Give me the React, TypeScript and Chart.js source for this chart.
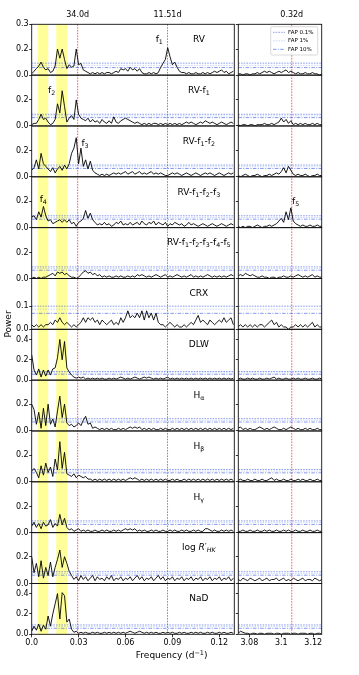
import React, { useEffect, useRef } from 'react';
import { Chart, registerables } from 'chart.js';

Chart.register(...registerables);

const FONT = '"DejaVu Sans", sans-serif';

// ---------- frequency grids (d^-1) ----------
const FREQ_L = [
  0, .0015, .003, .0045, .006, .0075, .009, .0105, .012, .0135,
  .015, .0165, .018, .0195, .021, .0225, .024, .0255, .027, .0285,
  .03, .0315, .033, .0345, .036, .0375, .039, .0405, .042, .0435,
  .045, .0465, .048, .0495, .051, .0525, .054, .0555, .057, .0585,
  .06, .0615, .063, .0645, .066, .0675, .069, .0705, .072, .0735,
  .075, .0765, .078, .0795, .081, .0825, .084, .0855, .087, .0885,
  .09, .0915, .093, .0945, .096, .0975, .099, .1005, .102, .1035,
  .105, .1065, .108, .1095, .111, .1125, .114, .1155, .117, .1185,
  .12, .1215, .123, .1245, .126, .1275, .129,
];
const FREQ_R = [
  3.073, 3.0745, 3.076, 3.0775, 3.079, 3.0805, 3.082, 3.0835, 3.085, 3.0865,
  3.088, 3.0895, 3.091, 3.0925, 3.094, 3.0955, 3.097, 3.0985, 3.1, 3.1015,
  3.103, 3.1045, 3.106, 3.1075, 3.109, 3.1105, 3.112, 3.1135, 3.115, 3.1165,
  3.118, 3.1195, 3.121, 3.1225, 3.124, 3.1255,
];

// ---------- power, low-frequency window ----------
const P_RV_L = [
  .01,.03,.05,.07,.10,.06,.04,.05,.02,.03, .07,.20,.13,.20,.12,.05,.08,.06,.07,.20,
  .08,.09,.04,.03,.02,.01,.02,.01,.02,.01, .02,.01,.02,.02,.01,.02,.03,.02,.05,.04,
  .05,.03,.06,.04,.05,.03,.05,.02,.01,.01, .02,.01,.02,.01,.02,.06,.09,.12,.21,.14,
  .08,.10,.06,.03,.02,.02,.01,.02,.01,.01, .02,.01,.01,.02,.01,.02,.01,.02,.03,.02,
  .03,.04,.02,.03,.01,.02,.03,
];
const P_RV1_L = [
  .01,.02,.02,.05,.09,.05,.06,.03,.01,.02, .05,.17,.10,.27,.15,.03,.06,.08,.05,.20,
  .09,.06,.05,.04,.06,.03,.05,.03,.04,.02, .05,.03,.02,.04,.02,.07,.03,.02,.04,.05,
  .06,.05,.04,.03,.02,.03,.02,.01,.02,.01, .02,.01,.02,.02,.01,.02,.01,.02,.01,.02,
  .01,.02,.01,.02,.01,.02,.03,.02,.03,.02, .01,.02,.03,.02,.04,.03,.02,.03,.02,.01,
  .02,.03,.02,.01,.02,.03,.02,
];
const P_RV12_L = [
  .05,.07,.13,.06,.18,.10,.08,.06,.04,.07, .03,.06,.08,.05,.09,.06,.10,.18,.22,.30,
  .10,.22,.08,.13,.06,.12,.05,.03,.02,.01, .02,.01,.02,.01,.02,.03,.02,.03,.02,.03,
  .04,.02,.03,.04,.02,.03,.04,.02,.03,.02, .03,.04,.02,.03,.02,.03,.02,.01,.01,.02,
  .03,.02,.03,.02,.01,.02,.03,.02,.01,.02, .03,.02,.01,.02,.03,.02,.03,.02,.01,.02,
  .03,.02,.01,.02,.03,.02,.03,
];
const P_RV123_L = [
  .08,.09,.06,.12,.08,.16,.09,.05,.06,.03, .04,.05,.06,.04,.06,.04,.06,.03,.04,.01,
  .04,.05,.07,.13,.07,.11,.06,.04,.02,.03, .02,.04,.02,.03,.01,.02,.04,.03,.05,.02,
  .03,.02,.04,.02,.03,.04,.02,.05,.03,.02, .04,.03,.05,.02,.04,.03,.02,.04,.01,.03,
  .02,.04,.03,.02,.03,.01,.02,.04,.02,.03, .02,.01,.02,.03,.02,.01,.02,.03,.02,.01,
  .02,.03,.02,.01,.02,.03,.02,
];
const P_RV12345_L = [
  .00,.01,.00,.01,.00,.01,.01,.02,.03,.04, .02,.05,.04,.05,.03,.04,.02,.01,.01,.00,
  .01,.03,.05,.06,.04,.05,.03,.04,.02,.03, .01,.02,.01,.02,.01,.01,.02,.01,.02,.01,
  .01,.02,.01,.02,.01,.03,.02,.03,.02,.01, .02,.01,.02,.03,.02,.01,.02,.03,.01,.02,
  .01,.02,.03,.02,.01,.02,.01,.02,.03,.01, .02,.01,.02,.01,.02,.03,.02,.01,.02,.01,
  .02,.01,.02,.01,.02,.03,.02,
];
const P_CRX_L = [
  .02,.01,.02,.01,.02,.01,.02,.02,.03,.02, .04,.03,.05,.03,.02,.03,.02,.01,.02,.01,
  .02,.03,.05,.03,.05,.04,.05,.03,.04,.02, .04,.03,.02,.03,.04,.02,.03,.02,.05,.03,
  .05,.08,.05,.06,.05,.07,.05,.08,.04,.08, .05,.07,.04,.07,.03,.02,.02,.01,.02,.03,
  .02,.01,.02,.01,.01,.02,.01,.02,.03,.02, .04,.06,.03,.04,.03,.02,.04,.03,.02,.03,
  .04,.03,.05,.03,.04,.05,.02,
];
const P_DLW_L = [
  .25,.10,.05,.11,.03,.10,.04,.10,.05,.11, .12,.22,.40,.20,.38,.12,.08,.05,.03,.02,
  .03,.02,.03,.01,.02,.01,.02,.01,.02,.01, .02,.01,.01,.02,.01,.02,.01,.02,.03,.02,
  .01,.02,.01,.02,.03,.02,.01,.02,.03,.02, .03,.02,.01,.02,.01,.02,.01,.02,.03,.01,
  .02,.01,.02,.01,.02,.01,.02,.01,.02,.01, .02,.01,.02,.01,.02,.01,.02,.01,.02,.01,
  .02,.01,.02,.01,.02,.01,.02,
];
const P_HA_L = [
  .20,.16,.05,.14,.02,.17,.04,.20,.05,.09, .03,.15,.26,.10,.20,.06,.04,.05,.03,.04,
  .06,.04,.08,.11,.05,.06,.02,.03,.02,.01, .02,.01,.02,.01,.02,.01,.01,.02,.01,.02,
  .01,.02,.03,.02,.03,.02,.03,.01,.02,.01, .02,.01,.02,.01,.01,.02,.01,.02,.01,.01,
  .02,.01,.02,.01,.02,.01,.02,.01,.02,.01, .02,.01,.02,.01,.02,.01,.02,.01,.02,.01,
  .02,.01,.02,.01,.02,.01,.02,
];
const P_HB_L = [
  .08,.10,.07,.03,.12,.05,.14,.07,.11,.04, .17,.09,.30,.10,.22,.06,.05,.04,.06,.03,
  .05,.04,.03,.04,.02,.02,.01,.02,.01,.02, .01,.02,.01,.02,.01,.02,.01,.02,.01,.02,
  .01,.02,.03,.02,.03,.02,.01,.02,.01,.02, .01,.02,.01,.02,.01,.02,.01,.02,.01,.01,
  .02,.01,.02,.01,.01,.02,.01,.02,.01,.02, .01,.02,.01,.02,.01,.02,.01,.02,.01,.02,
  .01,.02,.01,.02,.01,.02,.01,
];
const P_HG_L = [
  .05,.08,.04,.07,.03,.08,.05,.06,.10,.04, .07,.05,.14,.06,.11,.04,.02,.03,.01,.02,
  .03,.01,.02,.01,.02,.01,.01,.02,.01,.01, .02,.01,.02,.01,.01,.02,.01,.02,.01,.02,
  .03,.02,.03,.02,.03,.01,.02,.01,.02,.01, .01,.02,.01,.02,.01,.01,.02,.01,.01,.02,
  .01,.02,.01,.01,.02,.01,.02,.01,.01,.02, .01,.02,.01,.01,.03,.03,.02,.01,.02,.01,
  .01,.02,.01,.02,.01,.02,.01,
];
const P_RHK_L = [
  .20,.08,.15,.05,.17,.04,.12,.06,.16,.05, .12,.18,.25,.12,.20,.15,.09,.06,.03,.05,
  .02,.06,.03,.05,.02,.04,.06,.02,.05,.03, .04,.02,.05,.03,.06,.02,.04,.03,.05,.02,
  .04,.03,.05,.02,.04,.06,.03,.05,.02,.04, .03,.05,.02,.04,.06,.03,.05,.02,.04,.03,
  .05,.02,.04,.03,.05,.02,.04,.03,.05,.02, .04,.03,.05,.02,.04,.03,.05,.02,.04,.03,
  .05,.02,.04,.03,.05,.02,.04,
];
const P_NAD_L = [
  .03,.08,.04,.10,.03,.09,.05,.18,.08,.20, .30,.40,.15,.41,.38,.12,.15,.05,.02,.03,
  .01,.02,.01,.02,.01,.01,.02,.01,.02,.01, .01,.02,.01,.02,.01,.02,.01,.02,.01,.02,
  .01,.02,.03,.02,.01,.02,.03,.02,.01,.02, .01,.02,.01,.02,.01,.01,.02,.01,.02,.01,
  .02,.01,.01,.02,.01,.02,.01,.01,.02,.01, .02,.01,.02,.01,.01,.02,.01,.02,.01,.01,
  .02,.01,.02,.01,.01,.02,.01,
];

// ---------- power, high-frequency window ----------
const P_RV_R = [.01,.01,.00,.01,.01,.00,.01,.01,.02,.01, .02,.03,.02,.03,.02,.01,.02,.03,.02,.03, .04,.02,.03,.02,.01,.02,.01,.01,.02,.01, .01,.02,.01,.01,.00,.01];
const P_RV1_R = [.01,.00,.01,.01,.00,.01,.01,.00,.01,.01, .01,.02,.01,.01,.02,.01,.02,.03,.06,.03, .05,.02,.04,.01,.02,.01,.02,.01,.02,.01, .01,.02,.01,.02,.01,.01];
const P_RV12_R = [.01,.00,.01,.02,.01,.00,.01,.01,.02,.01, .00,.01,.01,.02,.01,.02,.03,.02,.04,.07, .03,.08,.05,.02,.01,.02,.01,.01,.02,.01, .00,.01,.01,.02,.01,.01];
const P_RV123_R = [.01,.00,.01,.00,.01,.01,.00,.01,.02,.01, .00,.01,.01,.02,.01,.02,.03,.05,.07,.04, .12,.06,.15,.05,.03,.02,.01,.02,.01,.01, .02,.01,.01,.02,.01,.01];
const P_RV12345_R = [.02,.03,.02,.04,.03,.02,.03,.02,.01,.01, .02,.01,.01,.00,.01,.01,.00,.01,.01,.02, .01,.01,.02,.01,.02,.03,.02,.01,.02,.01, .02,.03,.01,.02,.01,.01];
const P_CRX_R = [.01,.02,.01,.02,.01,.02,.01,.02,.01,.02, .02,.01,.02,.03,.04,.02,.03,.01,.02,.01, .01,.00,.01,.01,.02,.01,.02,.01,.02,.01, .02,.03,.01,.02,.01,.01];
const P_DLW_R = [.01,.02,.01,.01,.02,.01,.02,.01,.01,.02, .01,.01,.02,.01,.02,.03,.01,.02,.01,.01, .02,.01,.01,.02,.01,.02,.01,.01,.02,.01, .01,.02,.01,.01,.02,.01];
const P_HA_R = [.02,.03,.01,.02,.01,.02,.01,.01,.02,.03, .02,.01,.02,.01,.02,.03,.02,.01,.01,.02, .01,.02,.03,.02,.01,.02,.01,.01,.02,.01, .02,.01,.01,.02,.01,.01];
const P_HB_R = [.01,.02,.01,.01,.02,.01,.01,.02,.01,.01, .02,.01,.01,.02,.03,.01,.02,.01,.01,.02, .01,.01,.02,.01,.01,.02,.01,.02,.01,.01, .02,.01,.01,.02,.01,.01];
const P_HG_R = [.01,.01,.02,.01,.01,.02,.01,.01,.02,.01, .01,.02,.01,.02,.01,.01,.02,.01,.01,.02, .01,.02,.01,.01,.02,.01,.01,.02,.01,.01, .02,.01,.01,.02,.01,.01];
const P_RHK_R = [.03,.02,.04,.03,.02,.04,.03,.02,.03,.04, .02,.03,.04,.02,.03,.03,.04,.02,.03,.04, .02,.03,.02,.04,.03,.02,.03,.04,.02,.03, .03,.02,.04,.03,.02,.03];
const P_NAD_R = [.01,.03,.02,.01,.01,.00,.01,.01,.00,.01, .01,.00,.01,.01,.01,.00,.01,.01,.00,.01, .01,.01,.00,.01,.01,.00,.01,.01,.01,.00, .01,.01,.00,.01,.01,.00];

const POWER_L = [P_RV_L, P_RV1_L, P_RV12_L, P_RV123_L, P_RV12345_L, P_CRX_L, P_DLW_L, P_HA_L, P_HB_L, P_HG_L, P_RHK_L, P_NAD_L];
const POWER_R = [P_RV_R, P_RV1_R, P_RV12_R, P_RV123_R, P_RV12345_R, P_CRX_R, P_DLW_R, P_HA_R, P_HB_R, P_HG_R, P_RHK_R, P_NAD_R];

// ---------- false-alarm levels per row ----------
const FAP_01 = [.092, .09, .09, .09, .09, .10, .085, .092, .092, .09, .088, .092];
const FAP_1 = [.075, .077, .077, .077, .077, .087, .072, .08, .08, .077, .075, .076];
const FAP_10 = [.058, .064, .064, .064, .064, .069, .058, .067, .067, .063, .062, .059];
const FAP_LEVELS = [FAP_01, FAP_1, FAP_10];
const FAP_NAMES = ['FAP 0.1%', 'FAP 1%', 'FAP 10%'];

// ---------- axes ----------
const Y_MAX = [0.39, 0.39, 0.39, 0.385, 0.395, 0.22, 0.5, 0.38, 0.38, 0.39, 0.38, 0.5];
const Y_TICKS = [[0, 0.2, 0.39], [0, 0.2], [0, 0.2], [0, 0.2], [0, 0.2], [0, 0.1], [0, 0.2, 0.4], [0, 0.2], [0, 0.2], [0, 0.2], [0, 0.2], [0, 0.2, 0.4]];
const Y_TICK_LABELS = [['0.0', '0.2', '0.3'], ['0.0', '0.2'], ['0.0', '0.2'], ['0.0', '0.2'], ['0.0', '0.2'], ['0.0', '0.1'], ['0.0', '0.2', '0.4'], ['0.0', '0.2'], ['0.0', '0.2'], ['0.0', '0.2'], ['0.0', '0.2'], ['0.0', '0.2', '0.4']];
const X_MIN_L = 0, X_MAX_L = 0.1296;
const X_MIN_R = 3.0731, X_MAX_R = 3.1253;
const X_TICKS_L = [0, 0.03, 0.06, 0.09, 0.12];
const X_TICK_LABELS_L = ['0.0', '0.03', '0.06', '0.09', '0.12'];
const X_TICKS_R = [3.08, 3.1, 3.12];
const X_TICK_LABELS_R = ['3.08', '3.1', '3.12'];
const PERIODS_L = [34.0, 11.51];
const PERIOD_LABELS_L = ['34.0d', '11.51d'];
const PERIODS_R = [0.3219];
const PERIOD_LABELS_R = ['0.32d'];
const BANDS = [[0.0038, 0.0106], [0.0157, 0.0226]];

type Seg = { t: string; sub?: boolean; it?: boolean };
const ROW_LABELS: Seg[][] = [
  [{ t: 'RV' }],
  [{ t: 'RV-f' }, { t: '1', sub: true }],
  [{ t: 'RV-f' }, { t: '1', sub: true }, { t: '-f' }, { t: '2', sub: true }],
  [{ t: 'RV-f' }, { t: '1', sub: true }, { t: '-f' }, { t: '2', sub: true }, { t: '-f' }, { t: '3', sub: true }],
  [{ t: 'RV-f' }, { t: '1', sub: true }, { t: '-f' }, { t: '2', sub: true }, { t: '-f' }, { t: '3', sub: true }, { t: '-f' }, { t: '4', sub: true }, { t: '-f' }, { t: '5', sub: true }],
  [{ t: 'CRX' }],
  [{ t: 'DLW' }],
  [{ t: 'H' }, { t: 'α', sub: true }],
  [{ t: 'H' }, { t: 'β', sub: true }],
  [{ t: 'H' }, { t: 'γ', sub: true }],
  [{ t: 'log ' }, { t: 'R', it: true }, { t: '′' }, { t: 'HK', sub: true, it: true }],
  [{ t: 'NaD' }],
];
const PEAK_LABELS = [
  { side: 'L', row: 0, x: 0.0816, y: 0.28, n: '1' },
  { side: 'L', row: 1, x: 0.0128, y: 0.28, n: '2' },
  { side: 'L', row: 2, x: 0.0341, y: 0.26, n: '3' },
  { side: 'L', row: 3, x: 0.0074, y: 0.22, n: '4' },
  { side: 'R', row: 3, x: 3.109, y: 0.20, n: '5' },
];

const FAP_STYLES = [
  { color: 'rgba(60,95,225,0.75)', dash: [1.6, 1.1], width: 0.8 },
  { color: 'rgba(110,140,235,0.45)', dash: [1.6, 1.1], width: 0.8 },
  { color: 'rgba(60,95,225,0.8)', dash: [3.5, 1.4, 1, 1.4], width: 0.8 },
];

function drawRich(ctx: CanvasRenderingContext2D, segs: Seg[], cx: number, cy: number, size: number) {
  const font = (s: Seg) => `${s.it ? 'italic ' : ''}${s.sub ? size * 0.7 : size}px ${FONT}`;
  let w = 0;
  for (const s of segs) { ctx.font = font(s); w += ctx.measureText(s.t).width; }
  let x = cx - w / 2;
  const base = cy + size * 0.36;
  ctx.textAlign = 'left';
  ctx.textBaseline = 'alphabetic';
  ctx.fillStyle = '#000';
  for (const s of segs) {
    ctx.font = font(s);
    ctx.fillText(s.t, x, s.sub ? base + size * 0.22 : base);
    x += ctx.measureText(s.t).width;
  }
}

function makePlugin(side: 'L' | 'R') {
  const isL = side === 'L';
  return {
    id: 'deco' + side,
    beforeDatasetsDraw(chart: any) {
      const { ctx, chartArea: ca, scales } = chart;
      const xs = scales.x;
      ctx.save();
      if (isL) {
        ctx.fillStyle = 'rgba(255,255,0,0.4)';
        for (const [a, b] of BANDS) {
          const xa = xs.getPixelForValue(a), xb = xs.getPixelForValue(b);
          ctx.fillRect(xa, ca.top, xb - xa, ca.bottom - ca.top);
        }
      }
      ctx.strokeStyle = 'rgba(235,20,20,0.85)';
      ctx.lineWidth = 0.8;
      ctx.setLineDash([1.6, 1.2]);
      for (const p of isL ? PERIODS_L : PERIODS_R) {
        const px = xs.getPixelForValue(1 / p);
        ctx.beginPath();
        ctx.moveTo(px, ca.top);
        ctx.lineTo(px, ca.bottom);
        ctx.stroke();
      }
      ctx.restore();
    },
    afterDatasetsDraw(chart: any) {
      const { ctx, chartArea: ca, scales } = chart;
      ctx.save();
      ctx.strokeStyle = '#111';
      ctx.lineWidth = 0.9;
      ctx.setLineDash([]);
      for (let i = 0; i < 12; i++) {
        const ys = scales['y' + i];
        ctx.strokeRect(ca.left, ys.top, ca.right - ca.left, ys.bottom - ys.top);
      }
      if (isL) {
        for (let i = 0; i < 12; i++) {
          const ys = scales['y' + i];
          const cx = ca.left + 0.825 * (ca.right - ca.left);
          const cy = ys.top + 0.285 * (ys.bottom - ys.top);
          drawRich(ctx, ROW_LABELS[i], cx, cy, 9);
        }
      }
      for (const pl of PEAK_LABELS) {
        if (pl.side !== side) continue;
        const ys = scales['y' + pl.row];
        drawRich(ctx, [{ t: 'f' }, { t: pl.n, sub: true }], scales.x.getPixelForValue(pl.x), ys.getPixelForValue(pl.y), 9);
      }
      if (!isL) {
        const ys = scales.y0;
        const lw = 47, lh = 28.3;
        const lx = ca.right - 4 - lw, ly = ys.top + 2.4;
        ctx.fillStyle = 'rgba(255,255,255,0.85)';
        ctx.strokeStyle = 'rgba(200,200,200,0.9)';
        ctx.lineWidth = 0.8;
        ctx.beginPath();
        if ((ctx as any).roundRect) (ctx as any).roundRect(lx, ly, lw, lh, 1.5); else ctx.rect(lx, ly, lw, lh);
        ctx.fill();
        ctx.stroke();
        FAP_STYLES.forEach((st, k) => {
          const yy = ly + 5.6 + k * 8.5;
          ctx.strokeStyle = st.color;
          ctx.lineWidth = st.width;
          ctx.setLineDash(st.dash);
          ctx.beginPath();
          ctx.moveTo(lx + 2.3, yy);
          ctx.lineTo(lx + 14.3, yy);
          ctx.stroke();
          ctx.setLineDash([]);
          ctx.fillStyle = '#000';
          ctx.font = `5.5px ${FONT}`;
          ctx.textAlign = 'left';
          ctx.textBaseline = 'middle';
          ctx.fillText(FAP_NAMES[k], lx + 17.3, yy);
        });
      }
      ctx.restore();
    },
  };
}

function makeConfig(side: 'L' | 'R'): any {
  const isL = side === 'L';
  const freqs = isL ? FREQ_L : FREQ_R;
  const series = isL ? POWER_L : POWER_R;
  const xMin = isL ? X_MIN_L : X_MIN_R;
  const xMax = isL ? X_MAX_L : X_MAX_R;
  const xTicks = isL ? X_TICKS_L : X_TICKS_R;
  const xLabels = isL ? X_TICK_LABELS_L : X_TICK_LABELS_R;
  const periods = isL ? PERIODS_L : PERIODS_R;
  const periodLabels = isL ? PERIOD_LABELS_L : PERIOD_LABELS_R;
  const yWidth = isL ? 31.7 : 3.3;

  const datasets: any[] = [];
  series.forEach((vals, i) => {
    datasets.push({
      data: freqs.map((f, k) => ({ x: f, y: vals[k] })),
      xAxisID: 'x', yAxisID: 'y' + i,
      borderColor: '#000', borderWidth: 0.9, pointRadius: 0, fill: false, tension: 0, order: 0,
    });
    FAP_STYLES.forEach((st, k) => {
      const lvl = FAP_LEVELS[k][i];
      datasets.push({
        data: [{ x: xMin, y: lvl }, { x: xMax, y: lvl }],
        xAxisID: 'x', yAxisID: 'y' + i,
        borderColor: st.color, borderDash: st.dash, borderWidth: st.width, pointRadius: 0, fill: false, order: 1,
      });
    });
  });

  const scales: any = {
    x: {
      type: 'linear', position: 'bottom', min: xMin, max: xMax, bounds: 'data',
      afterBuildTicks: (s: any) => { s.ticks = xTicks.map((v) => ({ value: v })); },
      afterFit: (s: any) => { s.height = 16; },
      ticks: { autoSkip: false, maxRotation: 0, minRotation: 0, padding: 1, color: '#000', font: { size: 8, family: FONT }, callback: (_v: any, idx: number) => xLabels[idx] },
      grid: { drawOnChartArea: false, drawTicks: true, tickLength: 3, color: '#000', lineWidth: 0.8 },
      border: { display: false },
    },
    x2: {
      type: 'linear', position: 'top', min: xMin, max: xMax, bounds: 'data',
      afterBuildTicks: (s: any) => { s.ticks = periods.map((p) => ({ value: 1 / p })); },
      afterFit: (s: any) => { s.height = 24.3; },
      ticks: { autoSkip: false, maxRotation: 0, minRotation: 0, padding: 4.5, color: '#000', font: { size: 8, family: FONT }, callback: (_v: any, idx: number) => periodLabels[idx] },
      grid: { display: false, drawTicks: false },
      border: { display: false },
    },
  };
  for (let i = 0; i < 12; i++) {
    scales['y' + i] = {
      type: 'linear', position: 'left', stack: 'rows', stackWeight: 1, weight: 100 - i,
      min: 0, max: Y_MAX[i], bounds: 'data',
      afterBuildTicks: (s: any) => { s.ticks = Y_TICKS[i].map((v) => ({ value: v })); },
      afterFit: (s: any) => { s.width = yWidth; },
      ticks: { display: isL, autoSkip: false, padding: 0.5, color: '#000', font: { size: 8, family: FONT }, callback: (_v: any, idx: number) => Y_TICK_LABELS[i][idx] },
      grid: { drawOnChartArea: false, drawTicks: true, tickLength: 2.5, color: '#000', lineWidth: 0.8 },
      border: { display: false },
    };
  }

  return {
    type: 'line',
    data: { datasets },
    options: {
      responsive: false,
      maintainAspectRatio: false,
      devicePixelRatio: 1,
      animation: false,
      events: [],
      layout: { padding: { left: 0, right: isL ? 1.7 : 37.3, top: 0, bottom: 24.7 } },
      plugins: { legend: { display: false }, tooltip: { enabled: false } },
      scales,
    },
    plugins: [makePlugin(side)],
  };
}

export default function App() {
  const lRef = useRef<HTMLCanvasElement>(null);
  const rRef = useRef<HTMLCanvasElement>(null);
  useEffect(() => {
    const a = new Chart(lRef.current as HTMLCanvasElement, makeConfig('L'));
    const b = new Chart(rRef.current as HTMLCanvasElement, makeConfig('R'));
    return () => { a.destroy(); b.destroy(); };
  }, []);
  return (
    <div style={{ position: 'fixed', left: 0, top: 0, width: 359, height: 675, background: '#fff', fontFamily: FONT, color: '#000' }}>
      <canvas ref={lRef} width={236} height={675} style={{ position: 'absolute', left: 0, top: 0, width: 236, height: 675 }} />
      <canvas ref={rRef} width={124} height={675} style={{ position: 'absolute', left: 235, top: 0, width: 124, height: 675 }} />
      <div style={{ position: 'absolute', left: -22, top: 318, width: 60, height: 12, lineHeight: '12px', textAlign: 'center', fontSize: 9, transform: 'rotate(-90deg)' }}>Power</div>
      <div style={{ position: 'absolute', left: 111.7, top: 649, width: 120, height: 12, lineHeight: '12px', textAlign: 'center', fontSize: 9, whiteSpace: 'nowrap' }}>
        Frequency (d<span style={{ fontSize: 6.5, position: 'relative', top: -3 }}>−1</span>)
      </div>
    </div>
  );
}
